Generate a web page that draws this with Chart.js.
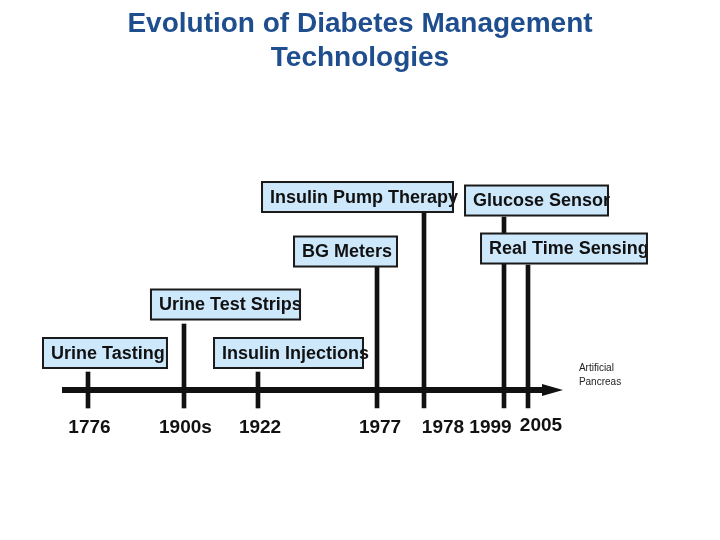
<!DOCTYPE html>
<html>
<head>
<meta charset="utf-8">
<script src="https://cdn.jsdelivr.net/npm/chart.js@4"></script>
<style>
  html, body { margin: 0; padding: 0; background: #fff; }
  #wrap { width: 720px; height: 540px; }
</style>
</head>
<body>
<div id="wrap"><canvas id="myChart"></canvas></div>
<script>
// timeline events (x = position along the timeline, 0-100)
const years = ['1776', '1900s', '1922', '1977', '1978', '1999', '2005'];
const stemPos = [7.5, 22.5, 34.06, 52.66, 60, 72.5, 76.25];
const stemTop = [18, 66, 18, 123, 178, 173, 125];
const stemBottom = -18;
const yearLabelPos = [7.73, 22.73, 34.38, 53.13, 62.97, 70.39, 78.28];
const yearLabelLevel = [-38, -38, -38, -38, -38, -38, -36];

// milestone boxes
const milestones = [
  'Urine Tasting',
  'Urine Test Strips',
  'Insulin Injections',
  'BG Meters',
  'Insulin Pump Therapy',
  'Glucose Sensor',
  'Real Time Sensing',
];
const boxStart = [0.47, 17.34, 27.19, 39.69, 34.69, 66.41, 68.91];
const boxEnd = [19.84, 40.63, 50.47, 55.78, 64.53, 88.75, 94.84];
const boxLevel = [37, 85.5, 37, 138.5, 193, 189.5, 141.5];

// main axis
const axisStart = 3.44;
const axisEnd = 81.72;
const futureLabel = ['Artificial', 'Pancreas'];
const futurePos = 84.2;
const futureLevel = [22, 8];

const stemData = stemPos.map((x, i) => ({ x: x, y: [stemBottom, stemTop[i]] }));

const timelinePlugin = {
  id: 'timeline',
  afterDatasetsDraw(chart) {
    const ctx = chart.ctx;
    const xs = chart.scales.x;
    const ys = chart.scales.y;
    ctx.save();

    // arrow head
    const tip = xs.getPixelForValue(axisEnd);
    const ay = ys.getPixelForValue(0);
    ctx.fillStyle = '#111';
    ctx.beginPath();
    ctx.moveTo(tip, ay);
    ctx.lineTo(tip - 21, ay - 6);
    ctx.lineTo(tip - 21, ay + 6);
    ctx.closePath();
    ctx.fill();

    // boxes
    ctx.font = 'bold 18px "Liberation Sans", Arial, sans-serif';
    ctx.textBaseline = 'middle';
    ctx.textAlign = 'left';
    milestones.forEach((m, i) => {
      const l = xs.getPixelForValue(boxStart[i]);
      const r = xs.getPixelForValue(boxEnd[i]);
      const c = ys.getPixelForValue(boxLevel[i]);
      const t = c - 15, h = 30;
      ctx.fillStyle = '#cde8fb';
      ctx.fillRect(l, t, r - l, h);
      ctx.fillStyle = '#111';
      ctx.fillText(m, l + 8, c + 1);
      ctx.strokeStyle = '#1a1a1a';
      ctx.lineWidth = 2;
      ctx.strokeRect(l, t, r - l, h);
    });

    // year labels
    ctx.font = 'bold 19px "Liberation Sans", Arial, sans-serif';
    ctx.textAlign = 'center';
    ctx.fillStyle = '#111';
    years.forEach((yr, i) => {
      ctx.fillText(yr, xs.getPixelForValue(yearLabelPos[i]), ys.getPixelForValue(yearLabelLevel[i]));
    });

    // future note
    ctx.font = '10px "Liberation Sans", Arial, sans-serif';
    ctx.textAlign = 'left';
    ctx.fillStyle = '#222';
    futureLabel.forEach((t, i) => {
      ctx.fillText(t, xs.getPixelForValue(futurePos), ys.getPixelForValue(futureLevel[i]));
    });
    ctx.restore();
  }
};

const config = {
  type: 'bar',
  data: {
    datasets: [
      {
        label: 'Events',
        data: stemData,
        backgroundColor: '#111',
        borderWidth: 0,
        barThickness: 4,
        order: 2,
      },
      {
        type: 'line',
        label: 'Axis',
        data: [{ x: axisStart, y: 0 }, { x: axisEnd - 2.5, y: 0 }],
        borderColor: '#111',
        borderWidth: 6,
        pointRadius: 0,
        order: 1,
      }
    ]
  },
  options: {
    responsive: true,
    maintainAspectRatio: false,
    animation: false,
    layout: {
      padding: { left: 40, right: 40, top: 0, bottom: 90 }
    },
    scales: {
      x: { type: 'linear', min: 0, max: 100, offset: false, display: false },
      y: { type: 'linear', min: -60, max: 220, display: false }
    },
    plugins: {
      legend: { display: false },
      tooltip: { enabled: false },
      title: {
        display: true,
        text: ['Evolution of Diabetes Management', 'Technologies'],
        color: '#1f4e8f',
        font: { family: '"Liberation Sans", Arial, sans-serif', size: 28, weight: 'bold', lineHeight: 1.22 },
        padding: { top: 7, bottom: 94.7 }
      }
    }
  },
  plugins: [timelinePlugin]
};

const myChart = new Chart(document.getElementById('myChart'), config);
</script>
</body>
</html>
